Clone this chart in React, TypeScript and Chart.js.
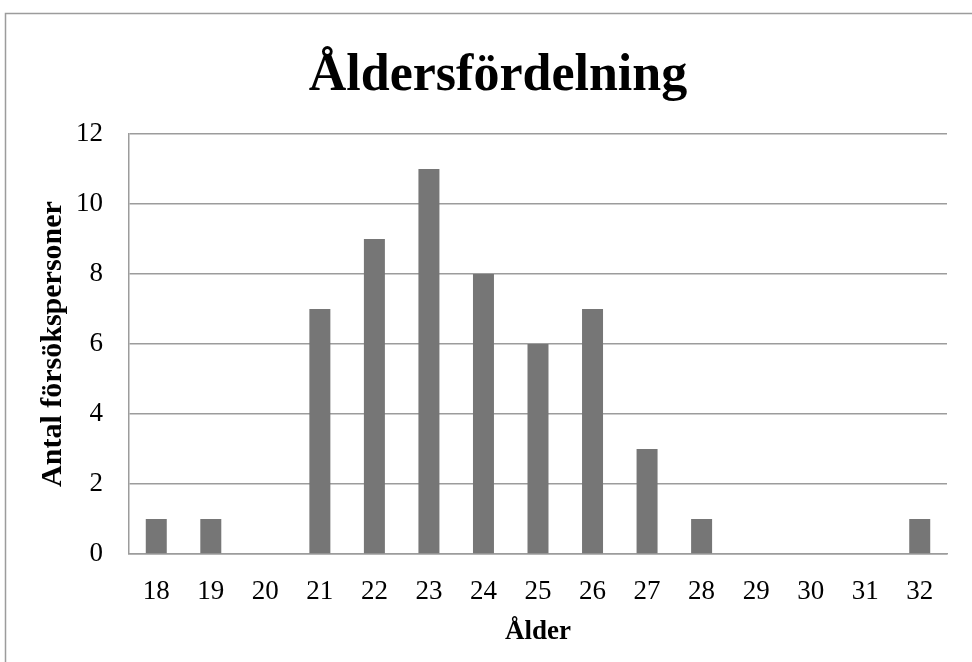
import React, { useEffect, useRef } from "react";
import { Chart, registerables } from "chart.js";

Chart.register(...registerables);

// Age distribution of the test participants
const ages = ["18", "19", "20", "21", "22", "23", "24", "25", "26", "27", "28", "29", "30", "31", "32"];
const counts = [1, 1, 0, 7, 9, 11, 8, 6, 7, 3, 1, 0, 0, 0, 1];
const yTicks = [0, 2, 4, 6, 8, 10, 12];

const chartTitle = "Åldersfördelning";
const xTitle = "Ålder";
const yTitle = "Antal försökspersoner";

const FONT = "'Liberation Serif', 'Times New Roman', serif";
const LINE = "#9c9c9c";

// Thin frame around the whole chart, plus the heading centred over the frame
const framePlugin = {
  id: "frame",
  beforeDraw(chart: Chart) {
    const { ctx } = chart;
    ctx.save();
    ctx.strokeStyle = LINE;
    ctx.lineWidth = 1.5;
    ctx.strokeRect(5.5, 13.5, chart.width + 20, chart.height + 20);
    ctx.restore();
  },
  afterDraw(chart: Chart) {
    const { ctx } = chart;
    ctx.save();
    ctx.fillStyle = "#000";
    ctx.font = `bold 52px ${FONT}`;
    ctx.textAlign = "center";
    ctx.textBaseline = "alphabetic";
    ctx.fillText(chartTitle, 498, 90);
    ctx.restore();
  },
};

export default function App() {
  const canvasRef = useRef<HTMLCanvasElement | null>(null);

  useEffect(() => {
    if (!canvasRef.current) return;
    const chart = new Chart(canvasRef.current, {
      type: "bar",
      data: {
        labels: ages,
        datasets: [
          {
            data: counts,
            backgroundColor: "#767676",
            borderWidth: 0,
            categoryPercentage: 1,
            barPercentage: 0.385,
          },
        ],
      },
      options: {
        animation: false,
        responsive: false,
        maintainAspectRatio: false,
        layout: { padding: { left: 0, right: 25, top: 134, bottom: 0 } },
        plugins: {
          legend: { display: false },
          tooltip: { enabled: false },
          title: { display: false },
        },
        scales: {
          x: {
            grid: { display: false, drawTicks: false },
            border: { display: true, color: LINE, width: 1.5 },
            ticks: {
              color: "#000",
              padding: 22,
              font: { family: FONT, size: 27 },
              maxRotation: 0,
              autoSkip: false,
            },
            title: {
              display: true,
              text: xTitle,
              color: "#000",
              font: { family: FONT, size: 27, weight: "bold" },
              padding: { top: 0, bottom: 14 },
            },
            afterFit(scale: any) {
              scale.height = 108;
            },
          },
          y: {
            min: 0,
            max: 12,
            afterBuildTicks(scale: any) {
              scale.ticks = yTicks.map((v) => ({ value: v }));
            },
            grid: { color: LINE, lineWidth: 1.5, drawTicks: false },
            border: { display: true, color: LINE, width: 1.5 },
            ticks: {
              color: "#000",
              padding: 26,
              font: { family: FONT, size: 27 },
            },
            title: {
              display: true,
              text: yTitle,
              color: "#000",
              font: { family: FONT, size: 30, weight: "bold" },
              padding: { top: 35, bottom: 0 },
            },
            afterFit(scale: any) {
              scale.width = 129;
            },
          },
        },
      },
      plugins: [framePlugin],
    });
    return () => chart.destroy();
  }, []);

  return (
    <div style={{ position: "fixed", left: 0, top: 0, width: 972, height: 662, background: "#fff" }}>
      <canvas ref={canvasRef} width={972} height={662} style={{ display: "block" }} />
    </div>
  );
}
